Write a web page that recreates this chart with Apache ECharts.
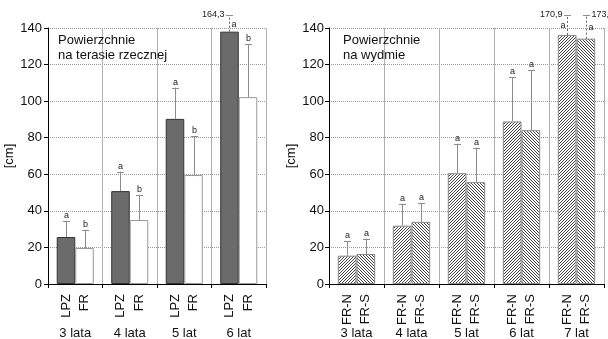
<!DOCTYPE html>
<html><head><meta charset="utf-8">
<script src="https://cdn.jsdelivr.net/npm/echarts@6/dist/echarts.min.js"></script>
<style>html,body{margin:0;padding:0;background:#fff}#c{width:608px;height:339px}</style>
</head><body><div id="c"></div>
<script>
// ---- data ----
const leftGroups = ['3 lata', '4 lata', '5 lat', '6 lat'];
const leftSeriesNames = ['LPZ', 'FR'];
const lpzValues = [25.7, 50.8, 90.3, 138.0];
const lpzErrTop = [34.2, 61.5, 107.4, 164.3];
const lpzLetters = ['a', 'a', 'a', 'a'];
const frValues = [19.7, 35.0, 59.6, 102.2];
const frErrTop = [29.7, 48.4, 80.7, 131.3];
const frLetters = ['b', 'b', 'b', 'b'];

const rightGroups = ['3 lata', '4 lata', '5 lat', '6 lat', '7 lat'];
const rightSeriesNames = ['FR-N', 'FR-S'];
const frnValues = [15.5, 31.9, 60.6, 88.9, 136.2];
const frnErrTop = [23.3, 43.9, 76.7, 113.1, 170.9];
const frnLetters = ['a', 'a', 'a', 'a', 'a'];
const frsValues = [16.4, 34.0, 55.7, 84.1, 134.2];
const frsErrTop = [24.8, 44.3, 74.6, 117.0, 173.1];
const frsLetters = ['a', 'a', 'a', 'a', 'a'];

const yMin = 0, yMax = 140, yInterval = 20;
const yName = '[cm]';
const leftTitle = 'Powierzchnie\nna terasie rzecznej';
const rightTitle = 'Powierzchnie\nna wydmie';

// ---- style ----
const FONT = 'Liberation Sans, Arial, sans-serif';
const BAR_RATIO = 0.34;
const OVERFLOW_GAP = 13;

function makeHatch(dir) {
  const p = 3;
  const c = document.createElement('canvas');
  c.width = p; c.height = p;
  const ctx = c.getContext('2d');
  ctx.fillStyle = '#fff';
  ctx.fillRect(0, 0, p, p);
  ctx.fillStyle = '#444';
  for (let x = 0; x < p; x++) for (let y = 0; y < p; y++) {
    const k = dir > 0 ? (x + y) % p : ((x - y) % p + p) % p;
    if (k === 0) ctx.fillRect(x, y, 1, 1);
  }
  return { image: c, repeat: 'repeat' };
}

function fmt(v) { return String(v).replace('.', ','); }

function errSeries(gridIdx, slot, values, errs, letters, letterSide, labelSide) {
  return {
    type: 'custom',
    xAxisIndex: gridIdx, yAxisIndex: gridIdx,
    clip: false, z: 5,
    data: values.map((v, i) => [i, v, errs[i]]),
    renderItem(params, api) {
      const i = params.dataIndex;
      const cat = api.value(0), v = api.value(1), e = api.value(2);
      const band = api.size([1, 0])[0];
      const bw = band * BAR_RATIO;
      const base = api.coord([cat, v]);
      const x = Math.round(base[0] + (slot - 0.5) * bw) + 0.5;
      const yTop = base[1];
      const maxY = api.coord([cat, yMax])[1];
      const over = e > yMax;
      const yErr = over ? maxY - OVERFLOW_GAP : api.coord([cat, e])[1];
      const ls = { stroke: '#8c8c8c', lineWidth: 1 };
      const children = [
        { type: 'line', shape: { x1: x, y1: yTop, x2: x, y2: yErr },
          style: Object.assign({}, ls, over ? { lineDash: [2, 2], stroke: '#666' } : {}) },
        { type: 'line', shape: { x1: x - 3.5, y1: Math.round(yErr) + 0.5, x2: x + 3.5, y2: Math.round(yErr) + 0.5 }, style: ls }
      ];
      const ts = { fontSize: 9, fontFamily: FONT, fill: '#222' };
      if (!over) {
        children.push({ type: 'text', style: Object.assign({ text: letters[i], x: x, y: yErr - 1, align: 'center', verticalAlign: 'bottom' }, ts) });
      } else {
        children.push({ type: 'text', style: Object.assign({ text: letters[i], x: x + letterSide * 2, y: (yErr + yTop) / 2 + 1, align: letterSide > 0 ? 'left' : 'right', verticalAlign: 'middle' }, ts) });
        children.push({ type: 'text', style: Object.assign({ text: fmt(e), x: x + labelSide * 5, y: yErr, align: labelSide > 0 ? 'left' : 'right', verticalAlign: 'middle' }, ts) });
      }
      return { type: 'group', children };
    }
  };
}

function barSeries(gridIdx, name, values, itemStyle) {
  return {
    type: 'bar', name, xAxisIndex: gridIdx, yAxisIndex: gridIdx,
    data: values, barWidth: (BAR_RATIO * 100) + '%', barGap: '0%',
    itemStyle,
    label: {
      show: true, position: 'bottom', distance: 10, rotate: 90,
      align: 'right', verticalAlign: 'middle',
      formatter: () => name, fontSize: 13, fontFamily: FONT, color: '#111'
    }
  };
}

function xAxis(gridIdx, data) {
  return {
    type: 'category', gridIndex: gridIdx, data,
    axisLine: { lineStyle: { color: '#000', width: 1 } },
    axisTick: { show: true, length: 4, lineStyle: { color: '#000' } },
    axisLabel: { margin: 43, fontSize: 13, fontFamily: FONT, color: '#111' },
    splitLine: { show: true, lineStyle: { color: '#b0b0b0', width: 1 } }
  };
}

function yAxis(gridIdx, nameGap, margin) {
  return {
    type: 'value', gridIndex: gridIdx, min: yMin, max: yMax, interval: yInterval,
    name: yName, nameLocation: 'middle', nameGap,
    nameTextStyle: { fontSize: 13, fontFamily: FONT, color: '#111' },
    axisLine: { show: true, lineStyle: { color: '#000', width: 1 } },
    axisTick: { show: true, length: 4, lineStyle: { color: '#000' } },
    axisLabel: { margin, fontSize: 13, fontFamily: FONT, color: '#111' },
    splitLine: { show: true, lineStyle: { color: '#999', type: [1, 1], width: 1 } }
  };
}

const chart = echarts.init(document.getElementById('c'));
chart.setOption({
  animation: false,
  backgroundColor: '#fff',
  textStyle: { fontFamily: FONT },
  title: [
    { text: leftTitle, left: 58, top: 33, padding: 0,
      textStyle: { fontSize: 13, fontWeight: 'normal', lineHeight: 15, color: '#111', fontFamily: FONT } },
    { text: rightTitle, left: 343, top: 33, padding: 0,
      textStyle: { fontSize: 13, fontWeight: 'normal', lineHeight: 15, color: '#111', fontFamily: FONT } }
  ],
  grid: [
    { left: 48, top: 28, width: 218, height: 256, outerBoundsMode: 'none', containLabel: false },
    { left: 329, top: 28, width: 275, height: 256, outerBoundsMode: 'none', containLabel: false }
  ],
  xAxis: [xAxis(0, leftGroups), xAxis(1, rightGroups)],
  yAxis: [yAxis(0, 24, 6), yAxis(1, 25, 5)],
  series: [
    barSeries(0, leftSeriesNames[0], lpzValues, { color: '#6b6b6b', borderColor: '#333', borderWidth: 1 }),
    barSeries(0, leftSeriesNames[1], frValues, { color: '#fff', borderColor: '#999', borderWidth: 1 }),
    barSeries(1, rightSeriesNames[0], frnValues, { color: makeHatch(1), borderColor: '#888', borderWidth: 1 }),
    barSeries(1, rightSeriesNames[1], frsValues, { color: makeHatch(-1), borderColor: '#888', borderWidth: 1 }),
    errSeries(0, 0, lpzValues, lpzErrTop, lpzLetters, 1, -1),
    errSeries(0, 1, frValues, frErrTop, frLetters, 1, 1),
    errSeries(1, 0, frnValues, frnErrTop, frnLetters, -1, -1),
    errSeries(1, 1, frsValues, frsErrTop, frsLetters, 1, 1)
  ]
});
</script>
</body></html>
